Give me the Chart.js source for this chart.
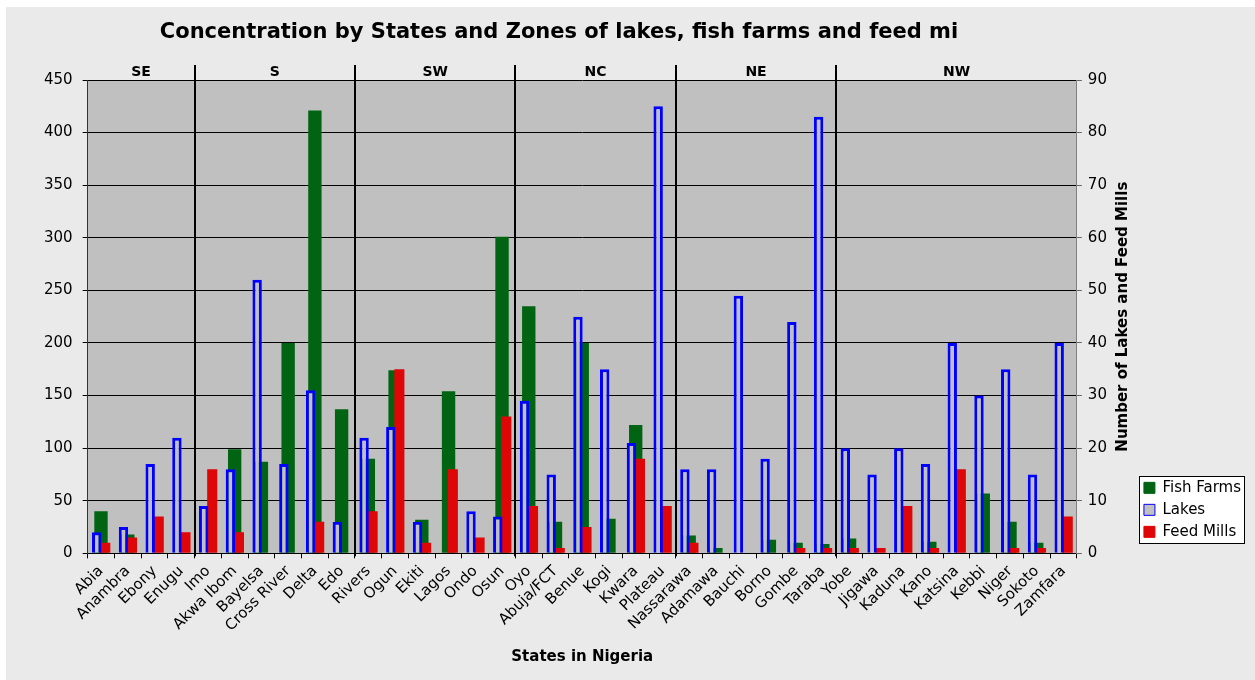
<!DOCTYPE html>
<html>
<head>
<meta charset="utf-8">
<title>Concentration by States and Zones</title>
<script src="https://cdn.jsdelivr.net/npm/chart.js@4"></script>
<style>
  html, body { margin: 0; padding: 0; background: #fff; }
  #wrap { position: absolute; left: 6px; top: 7px; width: 1249px; height: 673px; background: #eaeaea; }
</style>
</head>
<body>
<div id="wrap"><canvas id="chart"></canvas></div>
<script>
// ---- data ----
const states = ["Abia", "Anambra", "Ebony", "Enugu", "Imo", "Akwa Ibom", "Bayelsa", "Cross River",
  "Delta", "Edo", "Rivers", "Ogun", "Ekiti", "Lagos", "Ondo", "Osun", "Oyo", "Abuja/FCT", "Benue",
  "Kogi", "Kwara", "Plateau", "Nassarawa", "Adamawa", "Bauchi", "Borno", "Gombe", "Taraba", "Yobe",
  "Jigawa", "Kaduna", "Kano", "Katsina", "Kebbi", "Niger", "Sokoto", "Zamfara"];

// left axis
const fishFarms = [40, 18, 0, 0, 0, 99, 87, 200, 421, 137, 90, 174, 32, 154, 0, 301, 235, 30, 200,
  33, 122, 0, 17, 5, 0, 13, 10, 9, 14, 0, 0, 11, 0, 57, 30, 10, 0];
// right axis
const lakes = [4, 5, 17, 22, 9, 16, 52, 17, 31, 6, 22, 24, 6, 0, 8, 7, 29, 15, 45, 35, 21, 85,
  16, 16, 49, 18, 44, 83, 20, 15, 20, 17, 40, 30, 35, 15, 40];
const feedMills = [2, 3, 7, 4, 16, 4, 0, 0, 6, 0, 8, 35, 2, 16, 3, 26, 9, 1, 5, 0, 18, 9,
  2, 0, 0, 0, 1, 1, 1, 1, 9, 1, 16, 0, 1, 1, 7];

const zoneNames = ["SE", "S", "SW", "NC", "NE", "NW"];
const zoneSizes = [4, 6, 6, 6, 6, 9];

const leftTicks = { min: 0, max: 450, step: 50 };
const rightTicks = { min: 0, max: 90, step: 10 };

const chartTitle = "Concentration by States and Zones of lakes, fish farms and feed mi";
const rightTitle = "Number of Lakes and Feed Mills";

// ---- colours ----
const GREEN = "#006412";
const BLUE = "#0000ff";
const RED = "#de0606";
const PLOT_BG = "#c0c0c0";

Chart.defaults.font.family = '"DejaVu Sans", Verdana, sans-serif';
Chart.defaults.color = "#000";

// plot background, legend frame, title, zone bands, right axis title
const excelBits = {
  id: "excelBits",
  afterLayout(chart) {
    // Excel keeps the legend a little above the bottom of the plot
    chart.legend.bottom -= 7;
    chart.legend.height -= 7;
  },
  beforeDraw(chart) {
    const { ctx, chartArea: a } = chart;
    ctx.save();
    ctx.fillStyle = PLOT_BG;
    ctx.fillRect(a.left, a.top, a.width, a.height);

    const hb = chart.legend.legendHitBoxes || [];
    if (hb.length) {
      const l = Math.min(...hb.map(h => h.left)) - 5;
      const r = Math.max(...hb.map(h => h.left + h.width)) + 3;
      const t = Math.min(...hb.map(h => h.top)) - 4;
      const b = Math.max(...hb.map(h => h.top + h.height)) + 4;
      ctx.fillStyle = "#fff";
      ctx.fillRect(l, t, r - l, b - t);
      ctx.strokeStyle = "#000";
      ctx.lineWidth = 1;
      ctx.strokeRect(Math.round(l) + 0.5, Math.round(t) + 0.5, Math.round(r - l), Math.round(b - t));
    }
    ctx.restore();
  },
  afterDraw(chart) {
    const { ctx, chartArea: a, scales } = chart;
    const x = scales.x, y1 = scales.y1;
    const step = x.width / states.length;
    ctx.save();
    ctx.fillStyle = "#000";
    ctx.textAlign = "center";
    ctx.textBaseline = "middle";

    // title (Excel centres it over the area left of the legend)
    ctx.font = 'bold 21px "DejaVu Sans"';
    ctx.fillText(chartTitle, 553, 26);

    // zones
    ctx.font = 'bold 14px "DejaVu Sans"';
    ctx.strokeStyle = "#000";
    ctx.lineWidth = 2;
    let start = 0;
    zoneNames.forEach((name, i) => {
      const end = start + zoneSizes[i];
      const x0 = x.getPixelForValue(start) - step / 2;
      const x1 = x.getPixelForValue(end - 1) + step / 2;
      ctx.fillText(name, (x0 + x1) / 2, a.top - 8);
      if (end < states.length) {
        const px = Math.round(x1);
        ctx.beginPath();
        ctx.moveTo(px, a.top - 15);
        ctx.lineTo(px, a.bottom + 3);
        ctx.stroke();
      }
      start = end;
    });

    // right axis title, reading bottom to top like Excel
    ctx.translate(y1.right - 14, (a.top + a.bottom) / 2);
    ctx.rotate(-Math.PI / 2);
    ctx.font = 'bold 15px "DejaVu Sans"';
    ctx.fillText(rightTitle, 0, 0);
    ctx.restore();
  }
};

new Chart(document.getElementById("chart"), {
  type: "bar",
  data: {
    labels: states,
    datasets: [
      {
        label: "Fish Farms",
        data: fishFarms,
        yAxisID: "y",
        order: 2,
        grouped: false,
        backgroundColor: GREEN,
        borderColor: GREEN,
        borderWidth: 0,
        categoryPercentage: 1,
        barPercentage: 0.5,
      },
      {
        label: "Lakes",
        data: lakes,
        yAxisID: "y1",
        order: 0,
        backgroundColor: PLOT_BG,
        borderColor: BLUE,
        borderWidth: 3,
        categoryPercentage: 0.64,
        barPercentage: 1.1,
      },
      {
        label: "Feed Mills",
        data: feedMills,
        yAxisID: "y1",
        order: 1,
        backgroundColor: RED,
        borderColor: RED,
        borderWidth: 0,
        categoryPercentage: 0.64,
        barPercentage: 1.18,
      },
    ],
  },
  options: {
    responsive: true,
    maintainAspectRatio: false,
    animation: false,
    layout: { autoPadding: false, padding: { top: 73, left: 28, right: 4, bottom: 14 } },
    plugins: {
      title: { display: false },
      tooltip: { enabled: false },
      legend: {
        position: "right",
        align: "end",
        fullSize: false,
        labels: {
          color: "#000",
          font: { size: 15 },
          boxWidth: 11,
          boxHeight: 11,
          padding: 7,
          sort: (a, b) => a.datasetIndex - b.datasetIndex,
          generateLabels(chart) {
            const items = Chart.defaults.plugins.legend.labels.generateLabels(chart);
            items.forEach(it => { it.lineWidth = 1; });
            return items;
          },
        },
      },
    },
    scales: {
      x: {
        grid: { drawOnChartArea: false, offset: true, tickLength: 5, tickColor: "#000" },
        border: { color: "#000" },
        ticks: { color: "#000", font: { size: 15 }, minRotation: 45, maxRotation: 45, autoSkip: false, padding: 4 },
        title: {
          display: true,
          text: "States in Nigeria",
          color: "#000",
          font: { size: 15, weight: "bold" },
          padding: { top: 9, bottom: 0 },
        },
      },
      y: {
        position: "left",
        min: leftTicks.min,
        max: leftTicks.max,
        ticks: { stepSize: leftTicks.step, color: "#000", font: { size: 15 }, padding: 10 },
        grid: { color: "#000", tickLength: 5, tickColor: "#000" },
        border: { color: "#333" },
      },
      y1: {
        position: "right",
        min: rightTicks.min,
        max: rightTicks.max,
        ticks: { stepSize: rightTicks.step, color: "#000", font: { size: 15 }, padding: 6 },
        grid: { drawOnChartArea: false, tickLength: 5, tickColor: "#666" },
        border: { color: "#808080" },
        afterFit(scale) { scale.width += 24; },
      },
    },
  },
  plugins: [excelBits],
});
</script>
</body>
</html>
